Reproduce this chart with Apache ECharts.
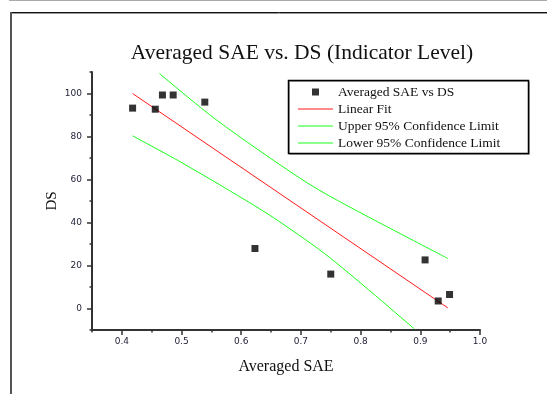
<!DOCTYPE html>
<html>
<head>
<meta charset="utf-8">
<script src="https://cdn.jsdelivr.net/npm/echarts@6/dist/echarts.min.js"></script>
<style>
  html, body { margin: 0; padding: 0; background: #fff; }
  #chart { width: 547px; height: 394px; }
</style>
</head>
<body>
<div id="chart"></div>
<script>
// measured points: averaged SAE vs DS
const sae = [0.418, 0.456, 0.468, 0.486, 0.539, 0.623, 0.750, 0.908, 0.930, 0.949]
const ds = [93.2, 92.7, 99.3, 99.3, 96.0, 27.9, 16.0, 22.6, 3.5, 6.5]

// linear fit and 95% confidence limits
const fitX = [0.418, 0.946]
const fitY = [100, 0.3]
const upperX = [0.463, 0.559, 0.699, 0.761, 0.946]
const upperY = [109.3, 87.6, 60.5, 50.3, 23.3]
const lowerX = [0.418, 0.498, 0.607, 0.663, 0.750, 0.890]
const lowerY = [80.3, 68.2, 50.4, 40.6, 23.3, -9.5]

const xTicks = [0.4, 0.5, 0.6, 0.7, 0.8, 0.9, 1.0]
const yTicks = [0, 20, 40, 60, 80, 100]

const zip = (a, b) => a.map((v, i) => [v, b[i]])

const axisColor = '#333'
const labelStyle = {
  color: '#22223a',
  fontFamily: 'DejaVu Sans',
  fontSize: 9
}
const lineIcon = 'path://M0,0H35V1H0Z'

const chart = echarts.init(document.getElementById('chart'))
const option = {
  animation: false,
  title: {
    text: 'Averaged SAE vs. DS (Indicator Level)',
    left: 297,
    top: 37,
    textAlign: 'center',
    textStyle: {
      fontFamily: 'Liberation Serif',
      fontSize: 21.5,
      fontWeight: 'normal',
      color: '#111'
    }
  },
  grid: { left: 92, right: 67, top: 72, bottom: 64 },
  legend: {
    orient: 'vertical',
    left: 298,
    top: 85,
    padding: 0,
    itemWidth: 35,
    itemHeight: 7,
    itemGap: 3,
    textStyle: {
      fontFamily: 'Liberation Serif',
      fontSize: 13.5,
      color: '#111'
    },
    data: [
      { name: 'Averaged SAE vs DS', icon: 'path://M0,0H1V1H0Z' },
      { name: 'Linear Fit', icon: lineIcon },
      { name: 'Upper 95% Confidence Limit', icon: lineIcon },
      { name: 'Lower 95% Confidence Limit', icon: lineIcon }
    ]
  },
  xAxis: [
    {
      type: 'value',
      min: 0.35,
      max: 1.0,
      name: 'Averaged SAE',
      nameLocation: 'middle',
      nameGap: 29,
      nameTextStyle: { fontFamily: 'Liberation Serif', fontSize: 16, color: '#111' },
      axisLine: { show: true, onZero: false, lineStyle: { color: axisColor, width: 2 } },
      axisTick: { show: true, length: 5, customValues: xTicks, lineStyle: { color: axisColor, width: 1.5 } },
      axisLabel: { margin: 7, customValues: xTicks, formatter: v => v.toFixed(1), ...labelStyle },
      splitLine: { show: false }
    },
    {
      // minor ticks
      type: 'value',
      min: 0.35,
      max: 1.0,
      interval: 0.1,
      position: 'bottom',
      axisLine: { show: false, onZero: false },
      axisTick: { show: true, length: 2.5, lineStyle: { color: axisColor, width: 1.5 } },
      axisLabel: { show: false },
      splitLine: { show: false }
    }
  ],
  yAxis: [
    {
      type: 'value',
      min: -10,
      max: 110,
      name: 'DS',
      nameLocation: 'middle',
      nameGap: 32,
      nameMoveOverlap: false,
      nameTextStyle: { fontFamily: 'Liberation Serif', fontSize: 15, color: '#111' },
      axisLine: { show: true, onZero: false, lineStyle: { color: axisColor, width: 2 } },
      axisTick: { show: true, length: 5, customValues: yTicks, lineStyle: { color: axisColor, width: 1.5 } },
      axisLabel: { margin: 10, customValues: yTicks, ...labelStyle },
      splitLine: { show: false }
    },
    {
      // minor ticks
      type: 'value',
      min: -10,
      max: 110,
      interval: 20,
      position: 'left',
      axisLine: { show: false, onZero: false },
      axisTick: { show: true, length: 2.5, lineStyle: { color: axisColor, width: 1.5 } },
      axisLabel: { show: false },
      splitLine: { show: false }
    }
  ],
  series: [
    {
      name: 'Averaged SAE vs DS',
      type: 'scatter',
      symbol: 'rect',
      symbolSize: 7,
      itemStyle: { color: '#000' },
      data: zip(sae, ds),
      z: 5
    },
    {
      name: 'Linear Fit',
      type: 'line',
      symbol: 'none',
      lineStyle: { color: '#ff1a1a', width: 1 },
      itemStyle: { color: '#ff1a1a' },
      data: zip(fitX, fitY)
    },
    {
      name: 'Upper 95% Confidence Limit',
      type: 'line',
      symbol: 'none',
      smooth: 0.3,
      lineStyle: { color: '#1aff1a', width: 1 },
      itemStyle: { color: '#1aff1a' },
      data: zip(upperX, upperY)
    },
    {
      name: 'Lower 95% Confidence Limit',
      type: 'line',
      symbol: 'none',
      smooth: 0.3,
      lineStyle: { color: '#1aff1a', width: 1 },
      itemStyle: { color: '#1aff1a' },
      data: zip(lowerX, lowerY)
    }
  ],
  graphic: [
    // page frame
    { type: 'line', shape: { x1: 9, y1: 0.5, x2: 547, y2: 0.5 }, style: { stroke: '#aaa', lineWidth: 1 } },
    { type: 'line', shape: { x1: 10, y1: 12.5, x2: 547, y2: 12.5 }, style: { stroke: '#111', lineWidth: 1 } },
    { type: 'line', shape: { x1: 12, y1: 13.5, x2: 547, y2: 13.5 }, style: { stroke: '#999', lineWidth: 1 } },
    { type: 'line', shape: { x1: 11, y1: 12, x2: 11, y2: 394 }, style: { stroke: '#555', lineWidth: 2 } },
    // legend box
    { type: 'rect', shape: { x: 289.5, y: 81.5, width: 240, height: 73 }, style: { fill: 'none', stroke: '#aaa', lineWidth: 1 } },
    { type: 'rect', shape: { x: 288.5, y: 80.5, width: 240, height: 73 }, style: { fill: 'none', stroke: '#000', lineWidth: 1.5 } }
  ]
}
chart.setOption(option)
</script>
</body>
</html>
